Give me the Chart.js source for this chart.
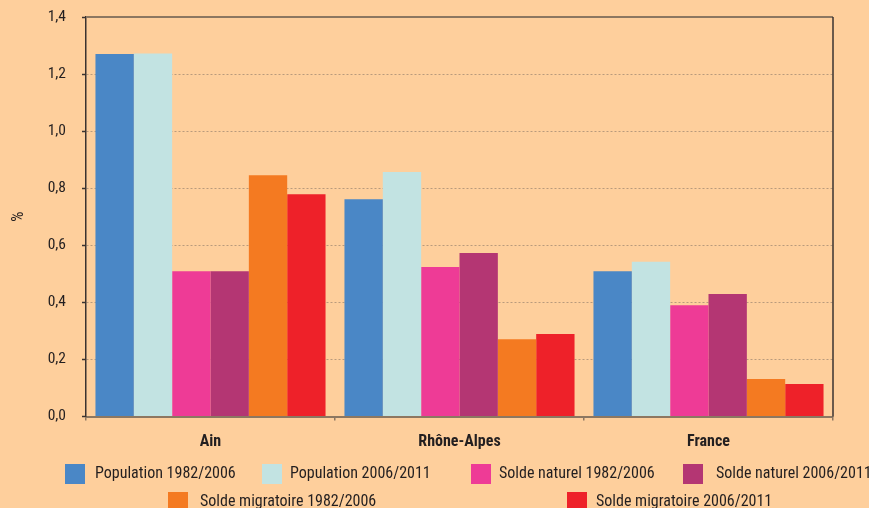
<!DOCTYPE html>
<html>
<head>
<meta charset="utf-8">
<script src="https://cdn.jsdelivr.net/npm/chart.js@4/dist/chart.umd.min.js"></script>
<style>
  html, body { margin: 0; padding: 0; background: #fecf9c; }
  #wrap { position: relative; width: 869px; height: 508px; overflow: hidden; background: #fecf9c; }
  #c { position: absolute; left: 0; top: 0; }
  .lg { position: absolute; font-family: "Roboto Condensed", "DejaVu Sans Condensed", sans-serif; font-size: 16px; color: #231f20; white-space: nowrap; }
  .sw { position: absolute; width: 20px; height: 20px; }
</style>
</head>
<body>
<div id="wrap">
  <canvas id="c" width="869" height="508"></canvas>
</div>
<script>
const categories = ["Ain", "Rhône-Alpes", "France"];
const seriesLabels = [
  "Population 1982/2006",
  "Population 2006/2011",
  "Solde naturel 1982/2006",
  "Solde naturel 2006/2011",
  "Solde migratoire 1982/2006",
  "Solde migratoire 2006/2011"
];
const pop8206 = [1.27, 0.761, 0.509];
const pop0611 = [1.272, 0.857, 0.542];
const nat8206 = [0.509, 0.524, 0.39];
const nat0611 = [0.509, 0.573, 0.429];
const mig8206 = [0.845, 0.271, 0.131];
const mig0611 = [0.779, 0.289, 0.114];
const yTicks = [0, 0.2, 0.4, 0.6, 0.8, 1.0, 1.2, 1.4];

const seriesValues = [pop8206, pop0611, nat8206, nat0611, mig8206, mig0611];
const colors = ["#4a87c6", "#c2e3e2", "#ee3b96", "#b43673", "#f47a21", "#ee2129"];

// legend layout (Excel-like fixed slots)
const legendSlots = [
  { box: 65, text: 95, top: 464 },
  { box: 262, text: 290, top: 464 },
  { box: 471, text: 499, top: 464 },
  { box: 683, text: 716, top: 464 },
  { box: 168, text: 200, top: 492 },
  { box: 567, text: 596, top: 492 }
];

const FONT = "'Roboto Condensed', 'DejaVu Sans Condensed', sans-serif";

const frame = {
  id: 'frame',
  afterDatasetsDraw(chart) {
    const a = chart.chartArea, ctx = chart.ctx;
    ctx.save();
    ctx.lineWidth = 2;
    ctx.strokeStyle = '#8c7761';
    ctx.beginPath();
    ctx.moveTo(a.left, a.top);
    ctx.lineTo(a.right, a.top);
    ctx.stroke();
    ctx.strokeStyle = '#3a3330';
    ctx.lineWidth = 1.5;
    ctx.beginPath();
    ctx.moveTo(a.right, a.top);
    ctx.lineTo(a.right, a.bottom);
    ctx.stroke();
    ctx.restore();
  }
};

new Chart(document.getElementById('c'), {
  type: 'bar',
  data: {
    labels: categories,
    datasets: seriesValues.map((v, i) => ({
      label: seriesLabels[i],
      data: v,
      backgroundColor: colors[i],
      borderWidth: 0,
      categoryPercentage: 0.924,
      barPercentage: 1.0
    }))
  },
  options: {
    responsive: false,
    animation: false,
    devicePixelRatio: 1,
    layout: { padding: { top: 17, right: 36, left: 0, bottom: 50 } },
    plugins: { legend: { display: false }, tooltip: { enabled: false } },
    scales: {
      x: {
        afterFit(s) { s.height = 41.5; },
        grid: { offset: true, drawOnChartArea: false, drawTicks: true, tickLength: 4, color: '#8c7761', lineWidth: 1.5 },
        border: { display: true, color: '#8c7761', width: 2 },
        ticks: { color: '#231f20', padding: 12, font: { family: FONT, size: 16, weight: 'bold' } }
      },
      y: {
        min: 0, max: 1.4,
        afterFit(s) { s.width = 86; s.paddingTop = 0; s.paddingBottom = 0; },
        afterBuildTicks(s) { s.ticks = yTicks.map(v => ({ value: v })); },
        grid: {
          color: '#b99a7c', lineWidth: 1,
          drawTicks: true, tickLength: 4, tickColor: '#3a3330', tickBorderDash: [], tickWidth: 1.5
        },
        border: { display: true, color: '#3a3330', width: 1.5, dash: [2, 2] },
        title: { display: true, text: '%', color: '#231f20', padding: { top: 9, bottom: 0 }, font: { family: FONT, size: 16 } },
        ticks: {
          color: '#231f20', padding: 16,
          font: { family: FONT, size: 15.5 },
          callback: v => v.toFixed(1).replace('.', ',')
        }
      }
    }
  },
  plugins: [frame]
});

const wrap = document.getElementById('wrap');
seriesLabels.forEach((lab, i) => {
  const s = legendSlots[i];
  const b = document.createElement('div');
  b.className = 'sw';
  b.style.left = s.box + 'px';
  b.style.top = s.top + 'px';
  b.style.background = colors[i];
  wrap.appendChild(b);
  const t = document.createElement('div');
  t.className = 'lg';
  t.style.left = s.text + 'px';
  t.style.top = (s.top - 1) + 'px';
  t.style.lineHeight = '20px';
  t.textContent = lab;
  wrap.appendChild(t);
});
</script>
</body>
</html>
